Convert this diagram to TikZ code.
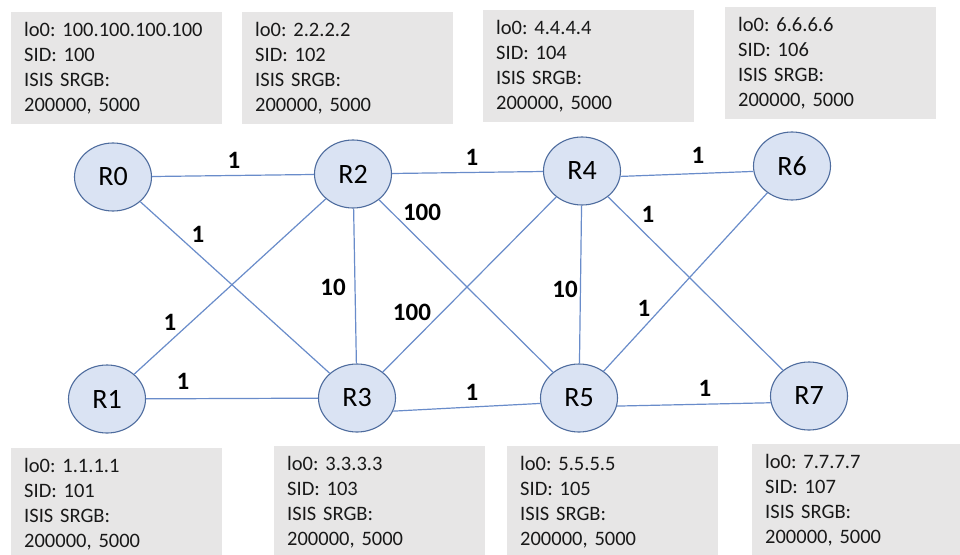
\documentclass[tikz,border=0pt]{standalone}
\usepackage{fontspec}
\setmainfont{Carlito}
\frenchspacing
\usetikzlibrary{shapes.geometric}
\definecolor{boxgray}{RGB}{231,230,230}
\definecolor{rfill}{RGB}{218,227,243}
\definecolor{rdraw}{RGB}{78,108,158}
\definecolor{linkblue}{RGB}{105,140,202}
\tikzset{
  infobox/.style={anchor=north west, fill=boxgray, minimum width=211pt, minimum height=112pt,
    text width=185pt, align=left, inner xsep=13pt, inner ysep=0pt,
    font=\fontsize{20.5}{25}\selectfont, text=black!90},
  router/.style={ellipse, draw=rdraw, line width=1.1pt, fill=rfill, minimum width=77pt,
    minimum height=68pt, inner sep=0pt, font=\fontsize{28}{30}\selectfont},
  link/.style={draw=linkblue, line width=1.2pt},
  cost/.style={font=\bfseries\fontsize{25}{27}\selectfont, inner sep=0pt}
}
\begin{document}
\begin{tikzpicture}[x=1pt,y=-1pt]
\clip (0,0) rectangle (960,554);
\fill[white] (0,0) rectangle (960,554);
% info boxes
\node[infobox] (b0) at (11,12) {lo0: 100.100.100.100\\SID: 100\\ISIS SRGB:\\200000, 5000};
\node[infobox] (b2) at (242,12) {lo0: 2.2.2.2\\SID: 102\\ISIS SRGB:\\200000, 5000};
\node[infobox] (b4) at (483,10) {lo0: 4.4.4.4\\SID: 104\\ISIS SRGB:\\200000, 5000};
\node[infobox] (b6) at (725,7) {lo0: 6.6.6.6\\SID: 106\\ISIS SRGB:\\200000, 5000};
\node[infobox] (b1) at (11,448) {lo0: 1.1.1.1\\SID: 101\\ISIS SRGB:\\200000, 5000};
\node[infobox] (b3) at (274,446) {lo0: 3.3.3.3\\SID: 103\\ISIS SRGB:\\200000, 5000};
\node[infobox] (b5) at (507,446) {lo0: 5.5.5.5\\SID: 105\\ISIS SRGB:\\200000, 5000};
\node[infobox] (b7) at (752,444) {lo0: 7.7.7.7\\SID: 107\\ISIS SRGB:\\200000, 5000};
% routers
\node[router] (R0) at (113,177) {R0};
\node[router] (R2) at (353,174) {R2};
\node[router] (R4) at (582,171) {R4};
\node[router] (R6) at (792,166) {R6};
\node[router] (R1) at (107,399) {R1};
\node[router] (R3) at (357,398) {R3};
\node[router] (R5) at (579,398) {R5};
\node[router] (R7) at (809,396) {R7};
% links
\draw[link] (R0) -- (R2);
\draw[link] (R2) -- (R4);
\draw[link] (R4.-8) -- (R6.188);
\draw[link] (R0) -- (R3);
\draw[link] (R1) -- (R2);
\draw[link] (R2) -- (R3);
\draw[link] (R2) -- (R5);
\draw[link] (R3) -- (R4);
\draw[link] (R4) -- (R5);
\draw[link] (R4) -- (R7);
\draw[link] (R5) -- (R6);
\draw[link] (R1) -- (R3);
\draw[link] (R3.-20) -- (R5.188);
\draw[link] (R5.-12) -- (R7.190);
% costs
\node[cost] (c02) at (234,160) {1};
\node[cost] (c24) at (472,157) {1};
\node[cost] (c46) at (698,155) {1};
\node[cost] (c03) at (198,234) {1};
\node[cost] (c25) at (422,212) {100};
\node[cost] (c23) at (333,287) {10};
\node[cost] (c34) at (412,312) {100};
\node[cost] (c12) at (170,322) {1};
\node[cost] (c13) at (183,381) {1};
\node[cost] (c35) at (472,392) {1};
\node[cost] (c47) at (648,214) {1};
\node[cost] (c45) at (565,289) {10};
\node[cost] (c56) at (644,308) {1};
\node[cost] (c57) at (705,388) {1};
\end{tikzpicture}
\end{document}
